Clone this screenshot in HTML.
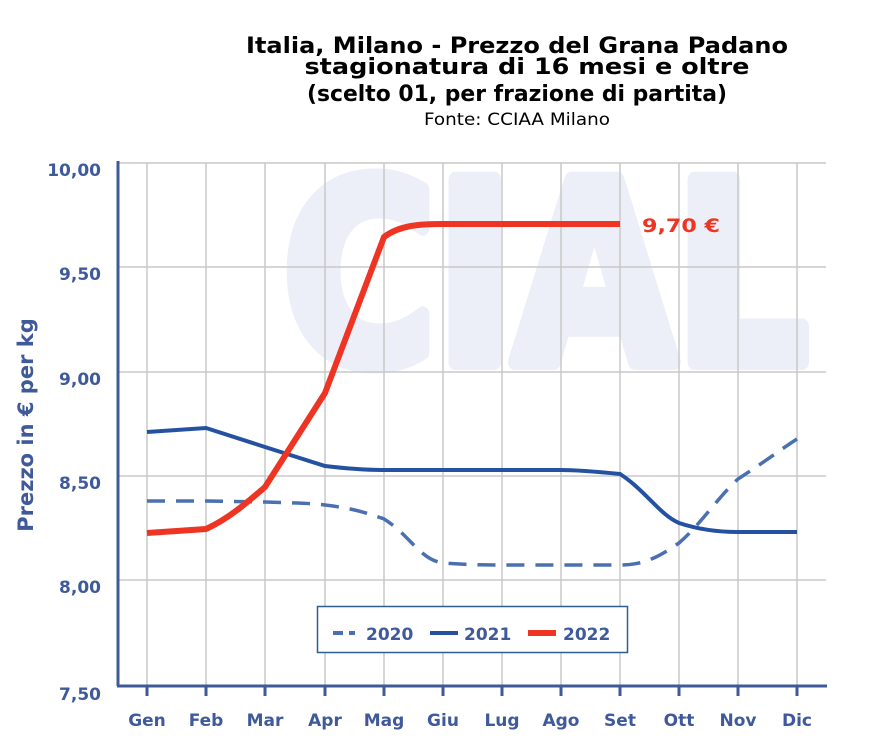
<!DOCTYPE html>
<html><head><meta charset="utf-8"><style>body{margin:0;background:#fff}svg{display:block}</style></head><body>
<svg width="874" height="750" viewBox="0 0 874 750" xmlns="http://www.w3.org/2000/svg" font-family="'DejaVu Sans','Liberation Sans',sans-serif">
<text x="517" y="53" text-anchor="middle" font-size="22" font-weight="bold" fill="#000" textLength="542" lengthAdjust="spacingAndGlyphs">Italia, Milano - Prezzo del Grana Padano</text>
<text x="527" y="74" text-anchor="middle" font-size="22" font-weight="bold" fill="#000" textLength="445" lengthAdjust="spacingAndGlyphs">stagionatura di 16 mesi e oltre</text>
<text x="517" y="101" text-anchor="middle" font-size="22" font-weight="bold" fill="#000" textLength="420" lengthAdjust="spacingAndGlyphs">(scelto 01, per frazione di partita)</text>
<text x="517" y="125" text-anchor="middle" font-size="17" fill="#000" textLength="186" lengthAdjust="spacingAndGlyphs">Fonte: CCIAA Milano</text>
<text x="283" y="362" font-size="250" font-weight="bold" fill="#eceef8" stroke="#eceef8" stroke-width="16" stroke-linejoin="round" textLength="525" lengthAdjust="spacingAndGlyphs">CIAL</text>
<g stroke="#c8c8c8" stroke-width="1.5">
<line x1="118" y1="163" x2="826" y2="163"/><line x1="118" y1="267" x2="826" y2="267"/><line x1="118" y1="372" x2="826" y2="372"/><line x1="118" y1="476" x2="826" y2="476"/><line x1="118" y1="580" x2="826" y2="580"/>
<line x1="147" y1="163" x2="147" y2="686"/><line x1="206" y1="163" x2="206" y2="686"/><line x1="265" y1="163" x2="265" y2="686"/><line x1="325" y1="163" x2="325" y2="686"/><line x1="384" y1="163" x2="384" y2="686"/><line x1="443" y1="163" x2="443" y2="686"/><line x1="502" y1="163" x2="502" y2="686"/><line x1="561" y1="163" x2="561" y2="686"/><line x1="620" y1="163" x2="620" y2="686"/><line x1="679" y1="163" x2="679" y2="686"/><line x1="738" y1="163" x2="738" y2="686"/><line x1="797" y1="163" x2="797" y2="686"/>
</g>
<g stroke="#3f5a9a" stroke-width="3">
<line x1="118" y1="161" x2="118" y2="686"/><line x1="117" y1="686" x2="827" y2="686"/>
<line x1="147" y1="686" x2="147" y2="696"/><line x1="206" y1="686" x2="206" y2="696"/><line x1="265" y1="686" x2="265" y2="696"/><line x1="325" y1="686" x2="325" y2="696"/><line x1="384" y1="686" x2="384" y2="696"/><line x1="443" y1="686" x2="443" y2="696"/><line x1="502" y1="686" x2="502" y2="696"/><line x1="561" y1="686" x2="561" y2="696"/><line x1="620" y1="686" x2="620" y2="696"/><line x1="679" y1="686" x2="679" y2="696"/><line x1="738" y1="686" x2="738" y2="696"/><line x1="797" y1="686" x2="797" y2="696"/>
</g>
<g font-size="17" font-weight="bold" fill="#3f5a9a" text-anchor="end">
<text x="101" y="176">10,00</text><text x="101" y="280">9,50</text><text x="101" y="385">9,00</text><text x="101" y="489">8,50</text><text x="101" y="593">8,00</text><text x="101" y="700">7,50</text>
</g>
<g font-size="17" font-weight="bold" fill="#3f5a9a" text-anchor="middle">
<text x="147" y="726">Gen</text><text x="206" y="726">Feb</text><text x="265" y="726">Mar</text><text x="325" y="726">Apr</text><text x="384" y="726">Mag</text><text x="443" y="726">Giu</text><text x="502" y="726">Lug</text><text x="561" y="726">Ago</text><text x="620" y="726">Set</text><text x="679" y="726">Ott</text><text x="738" y="726">Nov</text><text x="797" y="726">Dic</text>
</g>
<text transform="translate(33,425) rotate(-90)" text-anchor="middle" font-size="21" font-weight="bold" fill="#3f5a9a">Prezzo in € per kg</text>
<path d="M147,501 L206,501 L265,502 C290,503 310,503 325,505 C350,508 365,512 384,519 C410,535 420,560 443,563 C470,565 490,565 502,565 L620,565 C645,565 660,556 679,543 C700,525 720,495 738,479 C760,465 780,450 797,439" fill="none" stroke="#4a70b0" stroke-width="3.5" stroke-dasharray="18,11"/>
<path d="M147,432 L206,428 L265,447 L325,466 C350,469 365,470 384,470 L561,470 C580,470 600,472 620,474 C645,490 660,515 679,523 C700,530 720,532 738,532 L797,532" fill="none" stroke="#2452a0" stroke-width="4"/>
<path d="M147,533 L206,529 C230,518 250,500 265,487 L325,393 L384,237 C400,225 420,224 443,224 L620,224" fill="none" stroke="#ee3524" stroke-width="6"/>
<text x="642" y="232" font-size="19" font-weight="bold" fill="#ee3524" textLength="78" lengthAdjust="spacingAndGlyphs">9,70 €</text>
<rect x="317.5" y="606.5" width="310" height="46" fill="#fff" stroke="#2d5f8f" stroke-width="1.5"/>
<line x1="333" y1="633" x2="355" y2="633" stroke="#4a70b0" stroke-width="4" stroke-dasharray="10,6"/>
<text x="366" y="640" font-size="17" font-weight="bold" fill="#3f5a9a">2020</text>
<line x1="430" y1="633" x2="458" y2="633" stroke="#2452a0" stroke-width="4"/>
<text x="464" y="640" font-size="17" font-weight="bold" fill="#3f5a9a">2021</text>
<line x1="528" y1="633" x2="556" y2="633" stroke="#ee3524" stroke-width="6"/>
<text x="563" y="640" font-size="17" font-weight="bold" fill="#3f5a9a">2022</text>
</svg>
</body></html>
